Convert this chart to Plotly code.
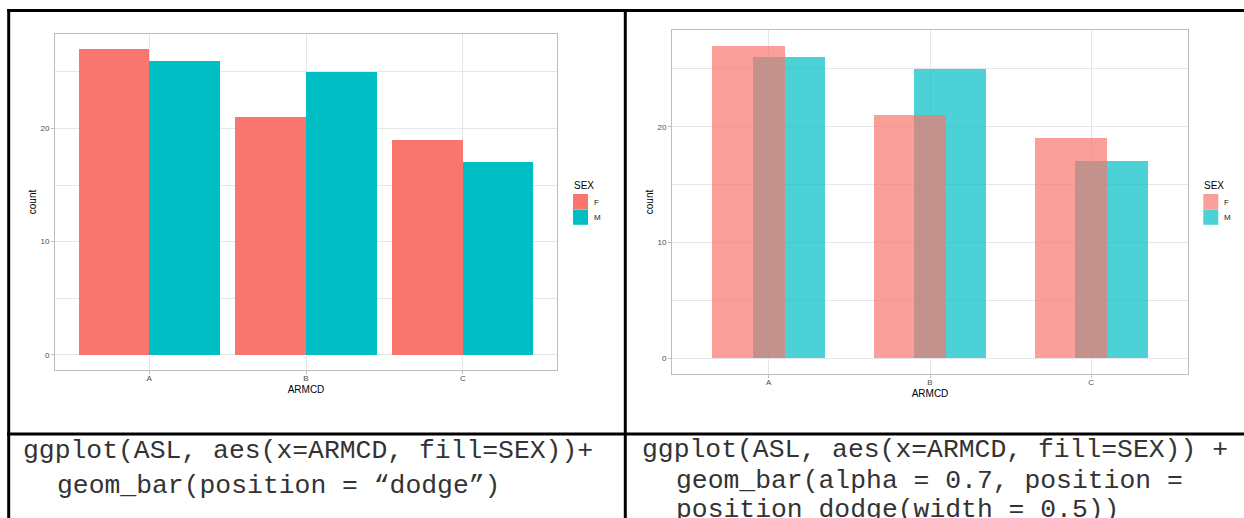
import plotly.graph_objects as go

# ---- data ----
armcd = ["A", "B", "C"]
f_counts = [27, 21, 19]
m_counts = [26, 25, 17]
sex_levels = ["F", "M"]
y_ticks = [0, 10, 20]
y_minor = [5, 15, 25]
code_left = ["ggplot(ASL, aes(x=ARMCD, fill=SEX))+",
             "geom_bar(position = \u201cdodge\u201d)"]
code_right = ["ggplot(ASL, aes(x=ARMCD, fill=SEX)) +",
              "geom_bar(alpha = 0.7, position =",
              "position_dodge(width = 0.5))"]

W, H = 1244, 518
F_COL = "#F8766D"
M_COL = "#00BFC4"
F_COL_A = "rgba(248,118,109,0.7)"
M_COL_A = "rgba(0,191,196,0.7)"

def px(x):
    return x / W

def py(y):
    return 1 - y / H

fig = go.Figure()

# left chart: position = "dodge"
fig.add_trace(go.Bar(x=armcd, y=f_counts, name="F", marker_color=F_COL, marker_line_width=0,
                     width=0.45, offset=-0.45, xaxis="x", yaxis="y", showlegend=False))
fig.add_trace(go.Bar(x=armcd, y=m_counts, name="M", marker_color=M_COL, marker_line_width=0,
                     width=0.45, offset=0.0, xaxis="x", yaxis="y", showlegend=False))
# right chart: alpha 0.7, position_dodge(width = 0.5); F drawn on top
fig.add_trace(go.Bar(x=armcd, y=m_counts, name="M", marker_color=M_COL_A, marker_line_width=0,
                     width=0.45, offset=-0.1, xaxis="x2", yaxis="y2", showlegend=False))
fig.add_trace(go.Bar(x=armcd, y=f_counts, name="F", marker_color=F_COL_A, marker_line_width=0,
                     width=0.45, offset=-0.35, xaxis="x2", yaxis="y2", showlegend=False))

GRID = "#E6E6E6"
BORDER = "#BDBDBD"
SANS = "Liberation Sans, Arial, sans-serif"
TICKFONT = dict(family=SANS, size=8, color="#4D4D4D")
TITLEFONT = dict(family=SANS, size=10, color="#000000")

def xax(domain, anchor):
    return dict(domain=domain, anchor=anchor, type="category", categoryorder="array",
                categoryarray=armcd, range=[-0.6, 2.6], showgrid=True, gridcolor=GRID, gridwidth=1,
                showline=True, linecolor=BORDER, linewidth=1, mirror=True,
                ticks="outside", ticklen=3, tickcolor=BORDER, tickwidth=1,
                ticklabelstandoff=-3,
                tickfont=TICKFONT, title=dict(text="ARMCD", font=TITLEFONT, standoff=4),
                zeroline=False, fixedrange=True)

def yax(domain, anchor):
    return dict(domain=domain, anchor=anchor, range=[-1.35, 28.35], tickvals=y_ticks,
                showgrid=True, gridcolor=GRID, gridwidth=1,
                minor=dict(tickvals=y_minor, showgrid=True, gridcolor=GRID, gridwidth=1, ticklen=0),
                showline=True, linecolor=BORDER, linewidth=1, mirror=True,
                ticks="outside", ticklen=3, tickcolor=BORDER, tickwidth=1,
                tickfont=TICKFONT, title=dict(text="count", font=TITLEFONT, standoff=1),
                zeroline=False, fixedrange=True)

fig.update_layout(
    width=W, height=H, margin=dict(l=0, r=0, t=0, b=0),
    paper_bgcolor="white", plot_bgcolor="white",
    barmode="overlay", bargap=0, showlegend=False,
    xaxis=xax([px(55), px(557)], "y"),
    yaxis=yax([py(370), py(34)], "x"),
    xaxis2=xax([px(672), px(1188)], "y2"),
    yaxis2=yax([py(374), py(30)], "x2"),
)

# table borders
line_style = dict(color="black", width=3)
shapes = [
    dict(type="line", xref="paper", yref="paper", x0=px(7), x1=1, y0=py(10.5), y1=py(10.5), line=line_style),
    dict(type="line", xref="paper", yref="paper", x0=px(7), x1=1, y0=py(434), y1=py(434), line=line_style),
    dict(type="line", xref="paper", yref="paper", x0=px(8.7), x1=px(8.7), y0=py(9), y1=0, line=line_style),
    dict(type="line", xref="paper", yref="paper", x0=px(625.3), x1=px(625.3), y0=py(9), y1=0, line=line_style),
]

annots = []
# legends (SEX: F, M) drawn as keys + labels
LEGFONT = dict(family=SANS, size=8, color="#1A1A1A")
for (lx, cols) in [(573, [F_COL, M_COL]), (1203.3, [F_COL_A, M_COL_A])]:
    annots.append(dict(text="SEX", x=px(lx - 1), y=py(185), xref="paper", yref="paper",
                       xanchor="left", yanchor="middle", showarrow=False, font=TITLEFONT))
    for i, (lvl, col) in enumerate(zip(sex_levels, cols)):
        y0 = 194 + i * 15.5
        shapes.append(dict(type="rect", xref="paper", yref="paper", x0=px(lx), x1=px(lx + 15),
                           y0=py(y0 + 15.3), y1=py(y0), fillcolor=col, line=dict(width=0)))
        annots.append(dict(text=lvl, x=px(lx + 19), y=py(y0 + 8), xref="paper", yref="paper",
                           xanchor="left", yanchor="middle", showarrow=False, font=LEGFONT))

fig.update_layout(shapes=shapes)

CODEFONT = dict(family="Liberation Mono, Courier New, monospace", size=26.4, color="#333333")
left_pos = [(21, 451), (55, 486)]
for txt, (x, y) in zip(code_left, left_pos):
    annots.append(dict(text=txt.replace(" ", "&nbsp;"), x=px(x), y=py(y), xref="paper", yref="paper",
                       xanchor="left", yanchor="middle", showarrow=False, font=CODEFONT))
right_pos = [(640, 450), (674, 481), (674, 510)]
for txt, (x, y) in zip(code_right, right_pos):
    annots.append(dict(text=txt.replace(" ", "&nbsp;"), x=px(x), y=py(y), xref="paper", yref="paper",
                       xanchor="left", yanchor="middle", showarrow=False, font=CODEFONT))
fig.update_layout(annotations=annots)

fig.write_html("out.html", config={"displayModeBar": False},
               post_script="document.body.style.margin='0';document.body.style.overflow='hidden';")
